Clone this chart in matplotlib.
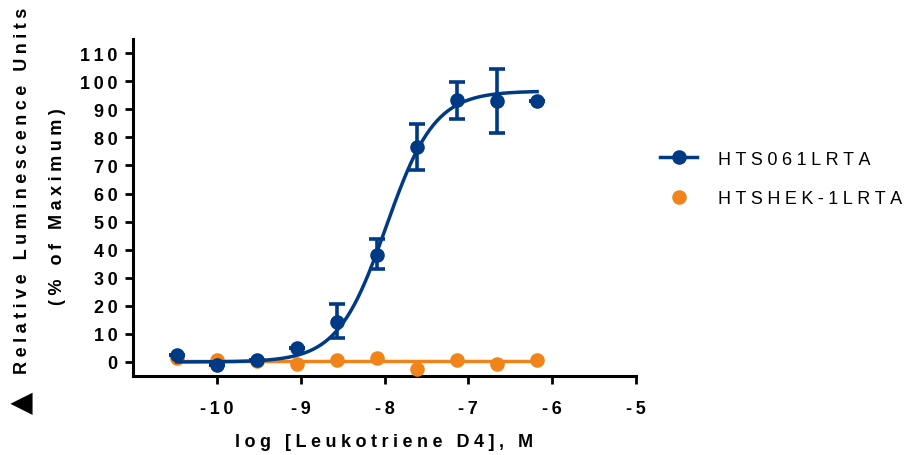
import numpy as np
import matplotlib.pyplot as plt
from matplotlib.lines import Line2D

plt.rcParams['font.family'] = ['Liberation Sans', 'DejaVu Sans']

# log concentration of Leukotriene D4 (M)
log_conc = [-10.48, -10.0, -9.52, -9.05, -8.57, -8.09, -7.61, -7.14, -6.66, -6.18]

# HTS061LRTA mean and error (SEM)
hts061 = [2.5, -1.2, 0.6, 5.0, 14.1, 38.2, 76.4, 93.3, 92.9, 93.1]
hts061_err_up = [0, 0, 0, 0, 6.4, 5.6, 8.3, 6.6, 11.5, 0]
hts061_err_dn = [0, 0, 0, 0, 5.5, 5.2, 8.1, 6.8, 11.5, 0]

# HTSHEK-1LRTA mean
hek = [1.4, 0.8, 0.4, -0.6, 0.8, 1.4, -2.5, 0.8, -0.6, 0.6]
hek_fit_level = 0.3

# 4PL fit parameters
fit_bottom, fit_top, fit_logec50, fit_hill = 0.0, 96.5, -7.98, 1.5

blue = '#003A84'
orange = '#F0841A'
SP = '\u2005'


def spaced(s, sep=SP):
    return sep.join(s)


fig = plt.figure(figsize=(9.15, 4.56), dpi=100)
ax = fig.add_axes([0.1454, 0.1732, 0.5497, 0.7388])

# orange flat fit
ax.plot([log_conc[0], log_conc[-1]], [hek_fit_level, hek_fit_level], color=orange, lw=2.5, zorder=2)
ax.plot(log_conc, hek, 'o', color=orange, ms=10.5, mec='none', zorder=3)

# blue curve
xs = np.linspace(log_conc[0], log_conc[-1], 300)
ys = fit_bottom + (fit_top - fit_bottom) / (1 + 10 ** ((fit_logec50 - xs) * fit_hill))
ax.plot(xs, ys, color=blue, lw=2.5, zorder=4)
ax.errorbar(log_conc, hts061, yerr=[hts061_err_dn, hts061_err_up], fmt='o', color=blue,
            ms=10.5, mec='none', elinewidth=2.6, capsize=6, capthick=2.6, zorder=5)

ax.set_xlim(-11, -5)
ax.set_ylim(-5, 115)
xt = [-10, -9, -8, -7, -6, -5]
yt = list(range(0, 111, 10))
ax.set_xticks(xt)
ax.set_xticklabels([spaced(str(v), '\u2009') for v in xt])
ax.set_yticks(yt)
ax.set_yticklabels([spaced(str(v), '\u2009') for v in yt])
for lab in ax.get_xticklabels() + ax.get_yticklabels():
    lab.set_fontweight('bold')
    lab.set_fontsize(13)

for s in ['top', 'right']:
    ax.spines[s].set_visible(False)
for s in ['left', 'bottom']:
    ax.spines[s].set_linewidth(2.2)
ax.tick_params(width=2, length=6, direction='out')
ax.tick_params(axis='x', pad=11)
ax.tick_params(axis='y', pad=5)

ax.set_xlabel(spaced('log [Leukotriene D4], M'), fontsize=13, fontweight='bold', labelpad=12)

# y label: two lines plus the triangle symbol
fig.text(23 / 915, 1 - 191 / 456, spaced('Relative Luminescence Units'), rotation=90,
         ha='center', va='center', fontsize=13, fontweight='bold')
fig.text(58 / 915, 1 - 207 / 456, spaced('(% of Maximum)'), rotation=90,
         ha='center', va='center', fontsize=13, fontweight='bold')
fig.text(22 / 915, 1 - 403 / 456, '\u25b2', rotation=90, ha='center', va='center',
         fontsize=21, family='DejaVu Sans')

handles = [Line2D([], [], color=blue, lw=2.5, marker='o', ms=10.5, mec='none'),
           Line2D([], [], color=orange, lw=0, marker='o', ms=10.5, mec='none')]
fig.legend(handles, [spaced('HTS061LRTA'), spaced('HTSHEK-1LRTA')], loc='center left',
           bbox_to_anchor=(660 / 915, 1 - 180 / 456), frameon=False, fontsize=13,
           handlelength=2.05, handletextpad=1.15, labelspacing=1.25, borderpad=0, borderaxespad=0)

fig.savefig('out.png', dpi=100)
